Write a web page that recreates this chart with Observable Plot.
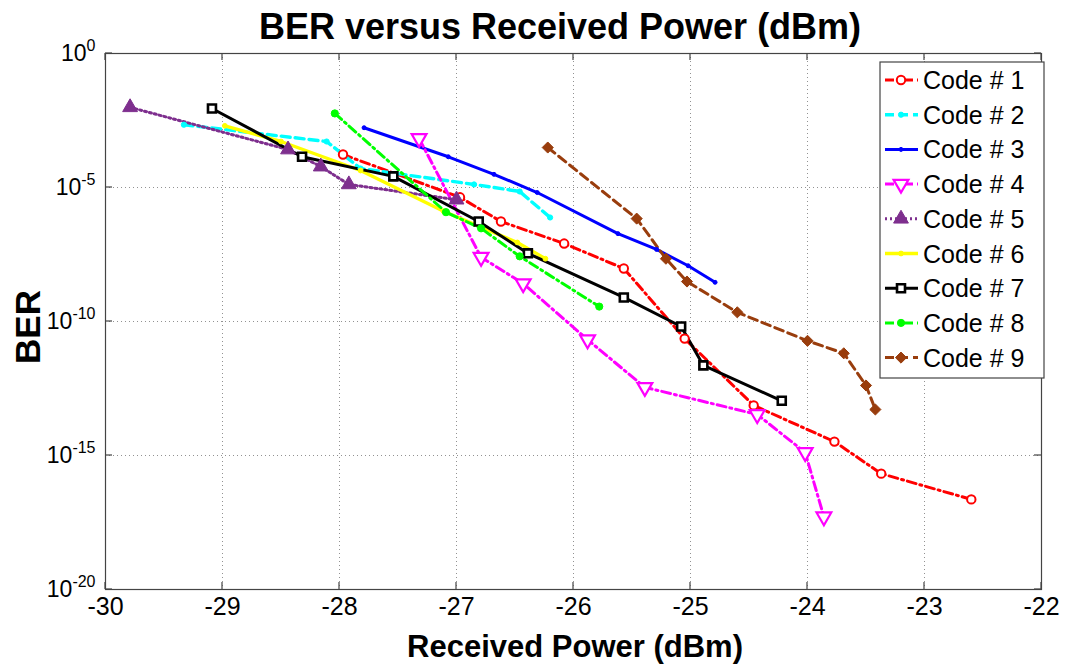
<!DOCTYPE html>
<html>
<head>
<meta charset="utf-8">
<script src="https://cdn.jsdelivr.net/npm/d3@7"></script>
<script src="https://cdn.jsdelivr.net/npm/@observablehq/plot@0.6"></script>
<style>
  html, body { margin: 0; padding: 0; background: #fff; }
  #chart { width: 1067px; height: 664px; overflow: hidden; }
  svg { font-family: "Liberation Sans", Arial, sans-serif; }
</style>
</head>
<body>
<div id="chart"></div>
<script>
// ---- data (received power in dBm, BER) ----
const codeNames = ["Code # 1", "Code # 2", "Code # 3", "Code # 4", "Code # 5", "Code # 6", "Code # 7", "Code # 8", "Code # 9"];

const code1Power = [-27.97, -26.97, -26.62, -26.08, -25.57, -25.05, -24.46, -23.77, -23.37, -22.6];
const code1BER   = [1.7e-4, 4.3e-6, 5.4e-7, 8.1e-8, 9.5e-9, 2.3e-11, 7.4e-14, 3.3e-15, 2.1e-16, 2.3e-17];

const code2Power = [-29.33, -28.11, -27.82, -26.85, -26.46, -26.2];
const code2BER   = [2.2e-3, 5.2e-4, 5.1e-5, 1.3e-5, 7.1e-6, 7.6e-7];

const code3Power = [-27.79, -27.07, -26.68, -26.31, -25.62, -25.29, -25.02, -24.79];
const code3BER   = [1.7e-3, 1.4e-4, 3.1e-5, 6.5e-6, 1.9e-7, 4.9e-8, 1.2e-8, 2.9e-9];

const code4Power = [-27.32, -26.79, -26.43, -25.88, -25.39, -24.43, -24.02, -23.86];
const code4BER   = [6.8e-4, 2.5e-8, 2.6e-9, 2.1e-11, 3.5e-13, 3.4e-14, 1.3e-15, 5.2e-18];

const code5Power = [-29.79, -28.44, -28.16, -27.92, -27.0];
const code5BER   = [9.8e-3, 2.6e-4, 6.0e-5, 1.3e-5, 3.5e-6];

const code6Power = [-28.98, -28.5, -27.82, -27.11, -26.48, -26.24];
const code6BER   = [2.0e-3, 5.2e-4, 4.3e-5, 1.3e-6, 8.9e-8, 2.2e-8];

const code7Power = [-29.09, -28.32, -27.54, -26.81, -26.39, -25.57, -25.08, -24.89, -24.22];
const code7BER   = [8.9e-3, 1.4e-4, 2.6e-5, 5.4e-7, 3.5e-8, 7.9e-10, 6.5e-11, 2.3e-12, 1.1e-13];

const code8Power = [-28.04, -27.09, -26.79, -26.46, -25.78];
const code8BER   = [5.8e-3, 1.2e-6, 3.0e-7, 2.7e-8, 3.6e-10];

const code9Power = [-26.22, -25.46, -25.21, -25.03, -24.6, -24.0, -23.69, -23.5, -23.42];
const code9BER   = [3.1e-4, 6.9e-7, 2.2e-8, 3.1e-9, 2.2e-10, 1.9e-11, 6.5e-12, 4.1e-13, 5.2e-14];

const xTicks = [-30, -29, -28, -27, -26, -25, -24, -23, -22];
const yTicks = [1, 1e-5, 1e-10, 1e-15, 1e-20];
const yTickExponents = ["0", "-5", "-10", "-15", "-20"];

const titleText = "BER versus Received Power (dBm)";
const xLabelText = "Received Power (dBm)";
const yLabelText = "BER";

// ---- styles ----
const powers = [code1Power, code2Power, code3Power, code4Power, code5Power, code6Power, code7Power, code8Power, code9Power];
const bers   = [code1BER, code2BER, code3BER, code4BER, code5BER, code6BER, code7BER, code8BER, code9BER];
const styles = [
  {color: "#ff0000", dash: "9,4,2,4", symbol: "circle",   fill: "#ffffff", r: 4.2, sw: 2,   lw: 3},
  {color: "#00ffff", dash: "9,5",     symbol: "circle",   fill: "#00ffff", r: 2.6, sw: 1,   lw: 3.4},
  {color: "#0000ff", dash: null,      symbol: "circle",   fill: "#0000ff", r: 2.0, sw: 1,   lw: 3},
  {color: "#ff00ff", dash: "9,4,2,4", symbol: "triangle", fill: "#ffffff", r: 5.5, sw: 2.2, lw: 3, rotate: 180},
  {color: "#7e2f8e", dash: "2,3",     symbol: "triangle", fill: "#7e2f8e", r: 5.5, sw: 1,   lw: 3},
  {color: "#ffff00", dash: null,      symbol: "circle",   fill: "#ffff00", r: 2.4, sw: 1,   lw: 3.4},
  {color: "#000000", dash: null,      symbol: "square",   fill: "#ffffff", r: 4.5, sw: 2.6, lw: 3},
  {color: "#00ff00", dash: "9,4,2,4", symbol: "circle",   fill: "#00ff00", r: 3.6, sw: 1,   lw: 3},
  {color: "#993d0d", dash: "9,5",     symbol: "diamond2", fill: "#993d0d", r: 5,   sw: 1,   lw: 3}
];

const series = codeNames.map((name, i) =>
  powers[i].map((p, j) => ({code: name, power: p, ber: bers[i][j]}))
);

const marks = [
  Plot.gridX(xTicks.slice(1, -1), {stroke: "#777", strokeOpacity: 0.8, strokeDasharray: "1,3", strokeWidth: 1}),
  Plot.gridY(yTicks.slice(1, -1), {stroke: "#777", strokeOpacity: 0.8, strokeDasharray: "1,3", strokeWidth: 1}),
  Plot.axisX(xTicks, {anchor: "bottom", tickSize: 0, tickPadding: 8, label: null, tickFormat: d => String(d)}),
  Plot.axisY(yTicks, {anchor: "left", tickSize: 0, tickPadding: 10, label: null,
    tickFormat: d => yTickExponents[yTicks.indexOf(d)]}),
  Plot.frame({stroke: "#444", strokeWidth: 1.2})
];

series.forEach((data, i) => {
  const s = styles[i];
  marks.push(Plot.line(data, {x: "power", y: "ber", stroke: s.color, strokeWidth: s.lw,
    strokeDasharray: s.dash || undefined, strokeLinejoin: "round"}));
});
series.forEach((data, i) => {
  const s = styles[i];
  marks.push(Plot.dot(data, {x: "power", y: "ber", symbol: s.symbol, r: s.r, fill: s.fill,
    stroke: s.color, strokeWidth: s.sw, rotate: s.rotate || 0}));
});

const chart = Plot.plot({
  width: 1067,
  height: 664,
  marginLeft: 105,
  marginRight: 26,
  marginTop: 53,
  marginBottom: 75,
  style: {fontFamily: "'Liberation Sans', Arial, sans-serif", color: "#000", background: "#fff"},
  x: {domain: [-30, -22], axis: null},
  y: {type: "log", domain: [1e-20, 1], axis: null},
  marks
});

const svg = d3.select(chart);
const xs = chart.scale("x"), ys = chart.scale("y");
const [x0, x1] = xs.range, [y0, y1] = ys.range; // y0 bottom, y1 top

// tick label fonts
svg.selectAll('g[aria-label="x-axis tick label"] text').attr("font-size", 25);
svg.selectAll('g[aria-label="y-axis tick label"] text').each(function() {
  const t = d3.select(this);
  const e = t.text();
  t.attr("font-size", 23).text("10");
  t.append("tspan").attr("dy", "-0.6em").attr("font-size", 16).text(e);
});

// inward ticks on all four sides
const tk = svg.append("g").attr("stroke", "#444").attr("stroke-width", 1.2);
xTicks.forEach(v => {
  const x = xs.apply(v);
  tk.append("line").attr("x1", x).attr("x2", x).attr("y1", y0).attr("y2", y0 - 7);
  tk.append("line").attr("x1", x).attr("x2", x).attr("y1", y1).attr("y2", y1 + 7);
});
yTicks.forEach(v => {
  const y = ys.apply(v);
  tk.append("line").attr("x1", x0).attr("x2", x0 + 7).attr("y1", y).attr("y2", y);
  tk.append("line").attr("x1", x1).attr("x2", x1 - 7).attr("y1", y).attr("y2", y);
});

// Title and axis labels
svg.append("text").attr("x", 560).attr("y", 39).attr("text-anchor", "middle")
  .attr("font-size", 36).attr("font-weight", "bold").text(titleText);
svg.append("text").attr("x", 575).attr("y", 657).attr("text-anchor", "middle")
  .attr("font-size", 31).attr("font-weight", "bold").text(xLabelText);
svg.append("text").attr("transform", "translate(40,327) rotate(-90)").attr("text-anchor", "middle")
  .attr("font-size", 35).attr("font-weight", "bold").text(yLabelText);

// Legend
const lg = svg.append("g");
const lx = 880, ly = 62, lw = 164, lh = 316;
lg.append("rect").attr("x", lx).attr("y", ly).attr("width", lw).attr("height", lh)
  .attr("fill", "#fff").attr("stroke", "#444").attr("stroke-width", 1.2);
const symbolMap = {circle: d3.symbolCircle, square: d3.symbolSquare, triangle: d3.symbolTriangle, diamond2: d3.symbolDiamond2};
codeNames.forEach((name, i) => {
  const s = styles[i];
  const y = ly + 18 + i * 34.7;
  lg.append("line").attr("x1", lx + 5).attr("x2", lx + 38).attr("y1", y).attr("y2", y)
    .attr("stroke", s.color).attr("stroke-width", s.lw).attr("stroke-dasharray", s.dash || null);
  const area = Math.PI * s.r * s.r;
  lg.append("path").attr("d", d3.symbol(symbolMap[s.symbol], area)())
    .attr("transform", `translate(${lx + 21},${y}) rotate(${s.rotate || 0})`)
    .attr("fill", s.fill).attr("stroke", s.color).attr("stroke-width", s.sw);
  lg.append("text").attr("x", lx + 43).attr("y", y + 9).attr("text-anchor", "start")
    .attr("font-size", 25).attr("fill", "#000").text(name);
});

document.getElementById("chart").appendChild(chart);
</script>
</body>
</html>
